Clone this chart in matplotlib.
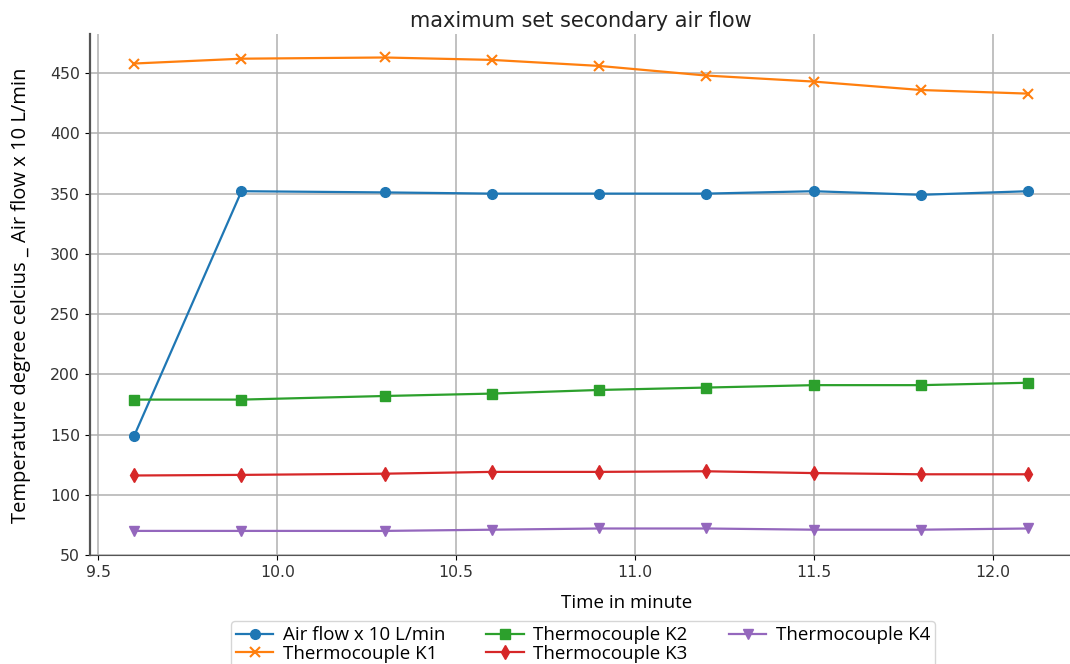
import matplotlib
matplotlib.use("Agg")
import matplotlib.pyplot as plt

time_min = [9.6, 9.9, 10.3, 10.6, 10.9, 11.2, 11.5, 11.8, 12.1]
air_flow = [149, 352, 351, 350, 350, 350, 352, 349, 352]
k1 = [458, 462, 463, 461, 456, 448, 443, 436, 433]
k2 = [179, 179, 182, 184, 187, 189, 191, 191, 193]
k3 = [116, 116.5, 117.5, 119, 119, 119.5, 118, 117, 117]
k4 = [70, 70, 70, 71, 72, 72, 71, 71, 72]

labels = ["Air flow x 10 L/min", "Thermocouple K1", "Thermocouple K2",
          "Thermocouple K3", "Thermocouple K4"]

W, H = 1070, 664
fig = plt.figure(figsize=(W / 100, H / 100), dpi=100)
ax = fig.add_axes([89.5 / W, 1 - 555 / H, (1073 - 89.5) / W, (555 - 34) / H])

ax.plot(time_min, air_flow, marker='o', color='#1f77b4', lw=1.6, ms=7, label=labels[0])
ax.plot(time_min, k1, marker='x', color='#ff7f0e', lw=1.6, ms=7.5, mew=1.5, label=labels[1])
ax.plot(time_min, k2, marker='s', color='#2ca02c', lw=1.6, ms=7, label=labels[2])
ax.plot(time_min, k3, marker='d', color='#d62728', lw=1.6, ms=7.5, label=labels[3])
ax.plot(time_min, k4, marker='v', color='#9467bd', lw=1.6, ms=7, label=labels[4])

ax.set_xlim(9.475, 12.225)
ax.set_ylim(50, 482.5)
ax.set_xticks([9.5, 10.0, 10.5, 11.0, 11.5, 12.0])
ax.set_yticks([50, 100, 150, 200, 250, 300, 350, 400, 450])
ax.grid(True, color='#b0b0b0', lw=1.1)
ax.tick_params(labelsize=11.3, labelcolor='#333333')
for s in ['top', 'right']:
    ax.spines[s].set_visible(False)
ax.spines['left'].set_linewidth(1.6)
ax.spines['left'].set_color('#555555')
ax.spines['bottom'].set_color('#555555')

ax.set_title("maximum set secondary air flow", fontsize=15, pad=5, color='#222222')
ax.set_xlabel("Time in minute", family='Open Sans', fontsize=13.5)
ax.xaxis.set_label_coords((627 - 89.5) / (1073 - 89.5), -(594 - 555) / (555 - 34))
ax.set_ylabel("Temperature degree celcius _ Air flow x 10 L/min", family='Open Sans', fontsize=14.5)
ax.yaxis.set_label_coords(-(89.5 - 31) / (1073 - 89.5), (555 - 295) / (555 - 34))

leg = ax.legend(loc='upper center', bbox_to_anchor=(583 / W, 1 - 612 / H),
                bbox_transform=fig.transFigure, ncol=3,
                prop={'family': 'Open Sans', 'size': 13.5},
                handlelength=2, columnspacing=2.2, labelspacing=0.05,
                borderpad=0.25, handletextpad=0.5)

fig.savefig("out.png", dpi=100)
